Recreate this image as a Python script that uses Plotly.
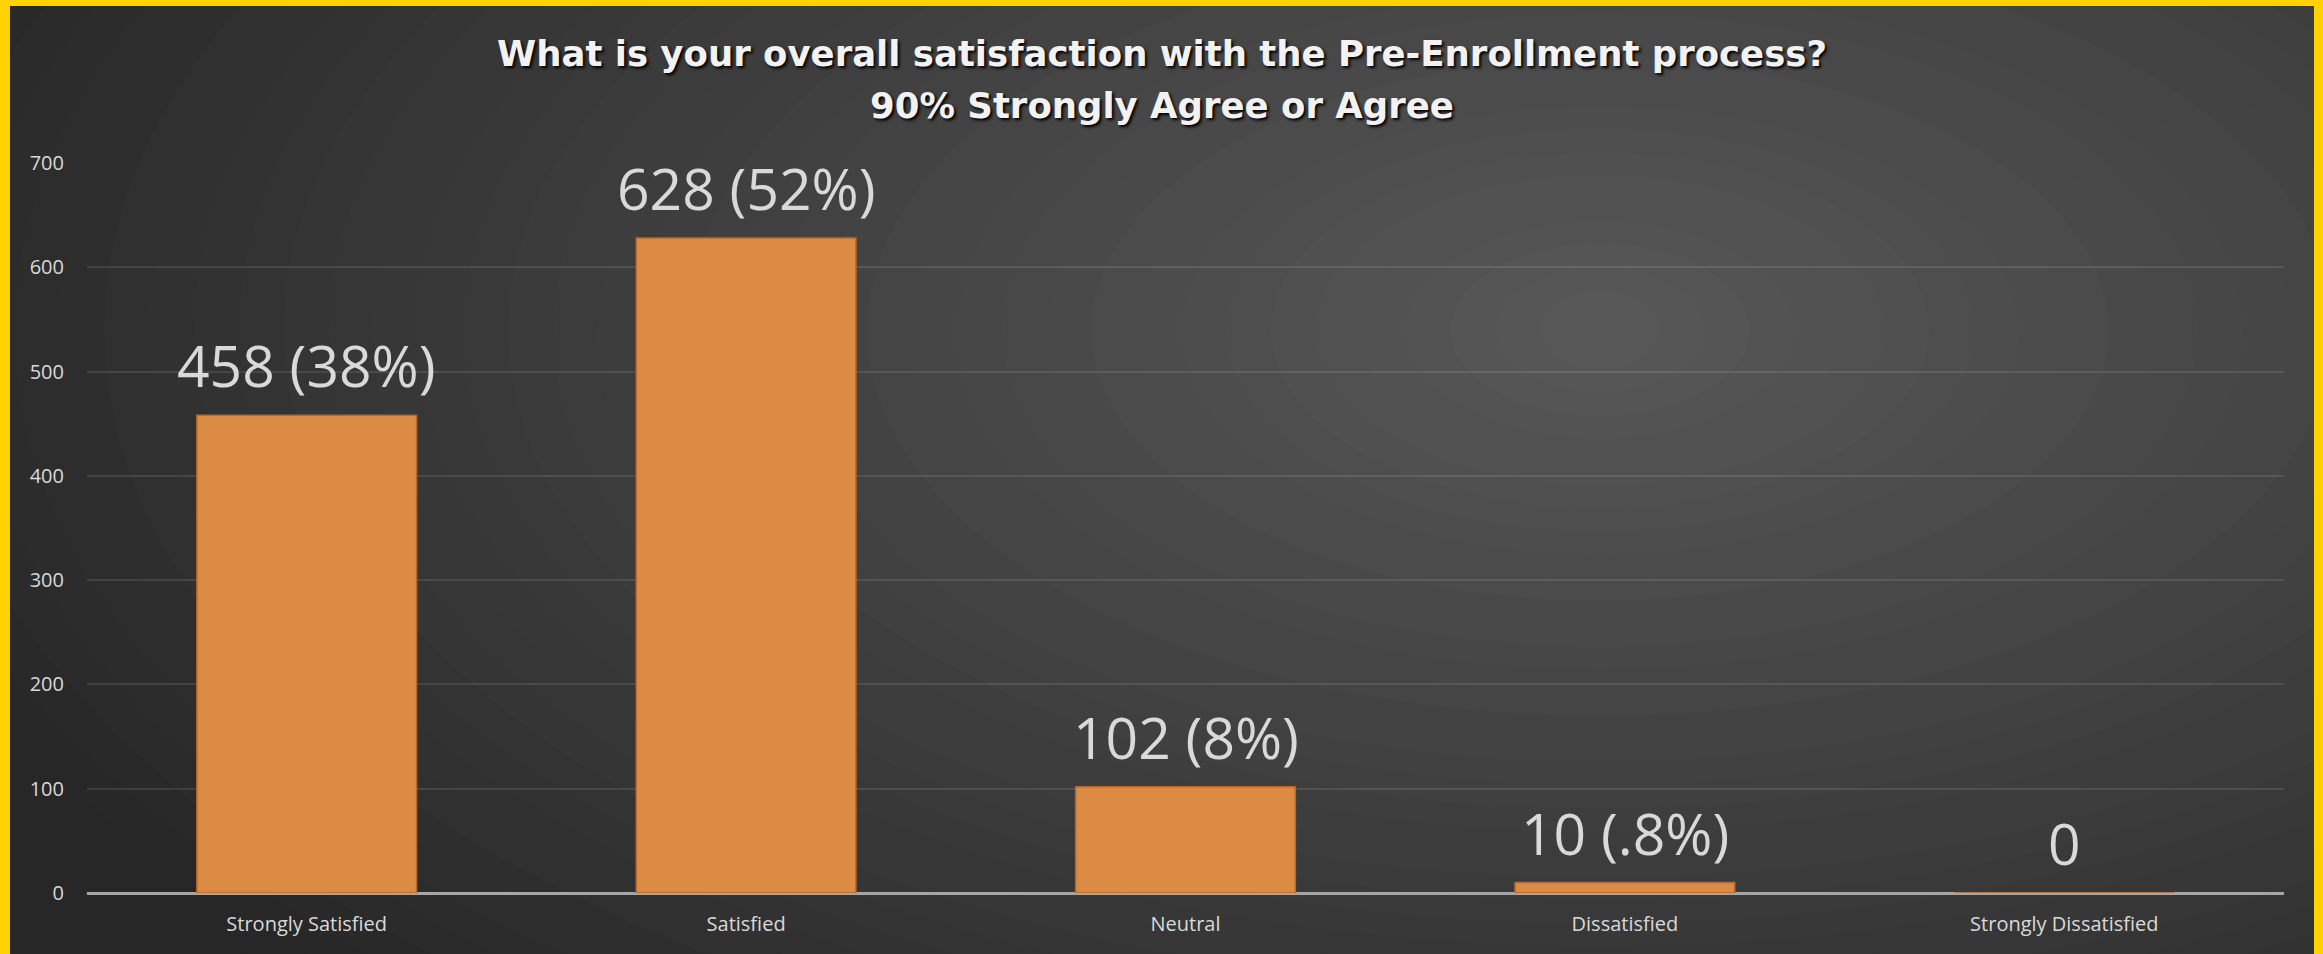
import plotly.graph_objects as go

categories = ["Strongly Satisfied", "Satisfied", "Neutral", "Dissatisfied", "Strongly Dissatisfied"]
counts = [458, 628, 102, 10, 0]
value_labels = ["458 (38%)", "628 (52%)", "102 (8%)", "10 (.8%)", "0"]
y_ticks = [0, 100, 200, 300, 400, 500, 600, 700]
title_line1 = "What is your overall satisfaction with the Pre-Enrollment process?"
title_line2 = "90% Strongly Agree or Agree"

W, H = 2323, 954
ML, MR, MT, MB = 87, 39, 163, 61
PW, PH = W - ML - MR, H - MT - MB


def fx(px):
    return (px - ML) / PW


def fy(py):
    return (H - MB - py) / PH


fig = go.Figure()

fig.add_trace(go.Bar(
    x=categories, y=counts,
    width=0.5,
    marker=dict(color="#dc8b45", line=dict(color="#b8682a", width=1.5)),
    hoverinfo="skip",
))

shapes = []
# background radial-ish gradient (concentric ellipses)
base = (0x27, 0x27, 0x27)
top = (0x57, 0x57, 0x57)
n = 40
cxp, cyp = 1600, 330
for i in range(n):
    t = i / (n - 1)
    c = tuple(int(round(base[k] + (top[k] - base[k]) * t)) for k in range(3))
    rx = 1750 * (1 - t) + 60
    ry = 900 * (1 - t) + 40
    shapes.append(dict(type="circle", xref="paper", yref="paper", layer="below",
                       x0=fx(cxp - rx), x1=fx(cxp + rx), y0=fy(cyp + ry), y1=fy(cyp - ry),
                       fillcolor="rgb(%d,%d,%d)" % c, line=dict(width=0)))

# yellow frame
yel = "#ffd200"
shapes += [
    dict(type="rect", xref="paper", yref="paper", layer="above", x0=fx(-20), x1=fx(10), y0=fy(980), y1=fy(-20), fillcolor=yel, line=dict(width=0)),
    dict(type="rect", xref="paper", yref="paper", layer="above", x0=fx(2314), x1=fx(2350), y0=fy(980), y1=fy(-20), fillcolor=yel, line=dict(width=0)),
    dict(type="rect", xref="paper", yref="paper", layer="above", x0=fx(-20), x1=fx(2350), y0=fy(6), y1=fy(-20), fillcolor=yel, line=dict(width=0)),
]

annotations = []
for c, v, lab in zip(categories, counts, value_labels):
    annotations.append(dict(x=c, y=v, xref="x", yref="y", text=lab, showarrow=False,
                            yanchor="bottom", yshift=9,
                            font=dict(family="Open Sans", size=57, color="#d9d9d9")))

tfont = dict(family="DejaVu Sans", size=35.5, color="#f2f2f2", shadow="2px 2px 3px #000")
annotations.append(dict(x=fx(W / 2), y=fy(53), xref="paper", yref="paper", text="<b>" + title_line1 + "</b>",
                        showarrow=False, yanchor="middle", xanchor="center", font=tfont))
annotations.append(dict(x=fx(W / 2), y=fy(105), xref="paper", yref="paper", text="<b>" + title_line2 + "</b>",
                        showarrow=False, yanchor="middle", xanchor="center", font=tfont))

fig.update_layout(
    width=W, height=H,
    margin=dict(l=ML, r=MR, t=MT, b=MB, autoexpand=False),
    paper_bgcolor="#272727",
    plot_bgcolor="rgba(0,0,0,0)",
    showlegend=False,
    shapes=shapes,
    annotations=annotations,
    xaxis=dict(showgrid=False, tickfont=dict(family="Open Sans", size=20, color="#d9d9d9"),
               ticks="", ticklabelstandoff=17, showline=False, fixedrange=True, automargin=False),
    yaxis=dict(range=[0, 700], tickvals=y_ticks, showgrid=True, gridcolor="rgba(255,255,255,0.1)",
               gridwidth=1.5, zeroline=True, zerolinecolor="#a6a6a6", zerolinewidth=2.5,
               tickfont=dict(family="Open Sans", size=20, color="#d9d9d9"),
               ticks="", ticklabelstandoff=22, fixedrange=True, automargin=False),
)

fig.write_html("out.html", config={"displayModeBar": False},
               post_script="document.body.style.margin='0';")
